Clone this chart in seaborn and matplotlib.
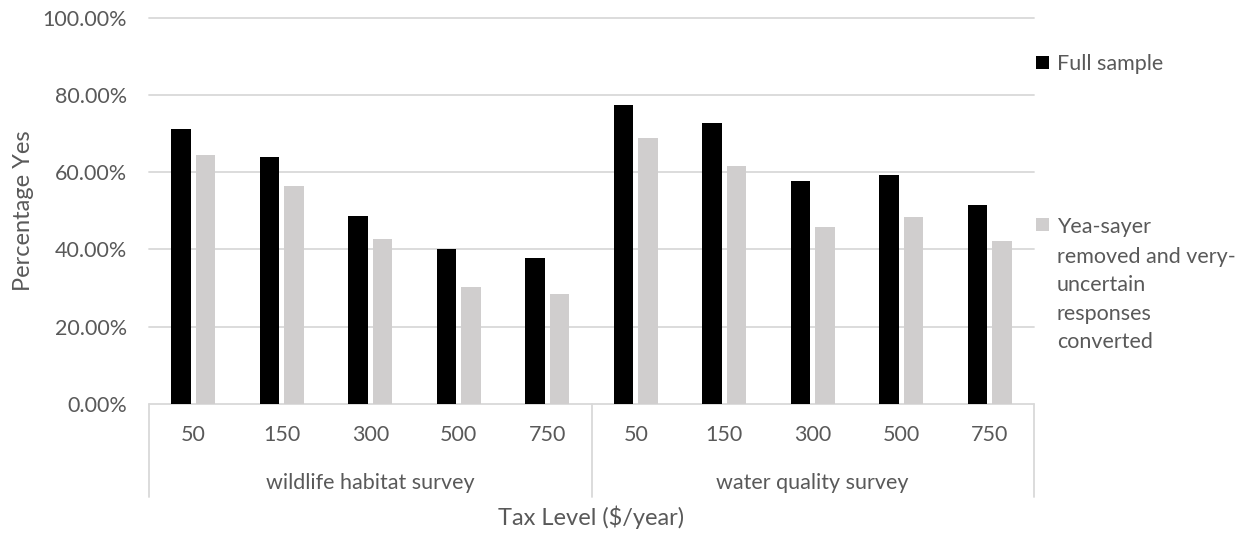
import matplotlib
matplotlib.use("Agg")
import matplotlib.pyplot as plt
import matplotlib.transforms as mtransforms
from matplotlib.patches import Patch
from matplotlib.ticker import PercentFormatter
import numpy as np
import pandas as pd
import seaborn as sns

# Survey groups and tax levels ($/year)
surveys = ["wildlife habitat survey", "water quality survey"]
tax_levels = ["50", "150", "300", "500", "750"]

# Share of "yes" answers per tax level (fraction)
full_wildlife = [0.711, 0.639, 0.486, 0.401, 0.379]
full_water = [0.773, 0.727, 0.578, 0.592, 0.514]
adj_wildlife = [0.643, 0.564, 0.426, 0.303, 0.284]
adj_water = [0.687, 0.617, 0.459, 0.483, 0.421]

series_names = ["Full sample",
                "Yea-sayer removed and very-uncertain responses converted"]

TEXT = "#595959"
GRID = "#d9d9d9"
BLACK = "#000000"
GRAY = "#d0cece"
FS = 15.5

# Long-form table: one row per bar
rows = []
for s_name, groups in zip(series_names, [[full_wildlife, full_water],
                                         [adj_wildlife, adj_water]]):
    for survey, vals in zip(surveys, groups):
        for lvl, v in zip(tax_levels, vals):
            rows.append({"category": f"{survey} | {lvl}", "series": s_name,
                         "pct": v})
df = pd.DataFrame(rows)
order = [f"{s} | {l}" for s in surveys for l in tax_levels]

sns.set_theme(style="white")
plt.rcParams["font.family"] = ["Lato", "DejaVu Sans"]
plt.rcParams["text.color"] = TEXT
plt.rcParams["axes.labelcolor"] = TEXT

fig = plt.figure(figsize=(12.47, 5.35), dpi=100)
ax = fig.add_axes([149 / 1247, 1 - 404 / 535, 885 / 1247, 386.5 / 535])

sns.barplot(data=df, x="category", y="pct", hue="series", order=order,
            hue_order=series_names, palette=[BLACK, GRAY], saturation=1,
            width=0.56, gap=0.21, linewidth=0, legend=False, ax=ax,
            errorbar=None)

ax.set_xlim(-0.5, len(order) - 0.5)
ax.set_ylim(0, 1.0)
ax.set_yticks(np.arange(0, 1.01, 0.2))
ax.yaxis.set_major_formatter(PercentFormatter(1.0, decimals=2))
ax.grid(axis="y", color=GRID, linewidth=1.3)
ax.grid(axis="x", visible=False)
ax.set_axisbelow(True)
for sp in ax.spines.values():
    sp.set_visible(False)
for gl in ax.yaxis.get_gridlines():
    gl.set_clip_on(False)

ax.set_xticks(range(len(order)))
ax.set_xticklabels(tax_levels * len(surveys))
ax.tick_params(axis="x", length=0, pad=15, labelsize=FS, labelcolor=TEXT)
ax.tick_params(axis="y", length=0, pad=16, labelsize=FS, labelcolor=TEXT)

# Two-level category axis: group names and separators
trans = mtransforms.blended_transform_factory(ax.transData, ax.transAxes)
n = len(tax_levels)
for i, survey in enumerate(surveys):
    ax.text(i * n + (n - 1) / 2, -0.204, survey, transform=trans,
            ha="center", va="center", fontsize=FS, color=TEXT)
for xb in [-0.5 + k * n for k in range(len(surveys) + 1)]:
    ax.plot([xb, xb], [0, -0.24], transform=trans, color=GRID,
            linewidth=1.3, clip_on=False)

ax.set_xlabel("Tax Level ($/year)", fontsize=17, color=TEXT)
ax.xaxis.set_label_coords(0.5, -0.262)
ax.set_ylabel("Percentage Yes", fontsize=17, color=TEXT)
ax.yaxis.set_label_coords(-0.130, 0.5)

# Legend on the right
handles = [Patch(facecolor=BLACK, edgecolor="none"),
           Patch(facecolor=GRAY, edgecolor="none")]
leg = fig.legend(handles, ["Full sample", "Yea-sayer"], loc="upper left",
                 bbox_to_anchor=(1036 / 1247, 1 - 54 / 535), frameon=False,
                 fontsize=FS, handlelength=0.6, handleheight=0.55,
                 handletextpad=0.37, labelspacing=6.62, borderpad=0,
                 borderaxespad=0)
for t in leg.get_texts():
    t.set_color(TEXT)
wrap_lines = ["removed and very-", "uncertain", "responses", "converted"]
for k, line in enumerate(wrap_lines):
    fig.text(1057 / 1247, 1 - (256.7 + 28.4 * k) / 535, line, ha="left",
             va="center", fontsize=FS, color=TEXT)

fig.savefig("out.png", dpi=100)
